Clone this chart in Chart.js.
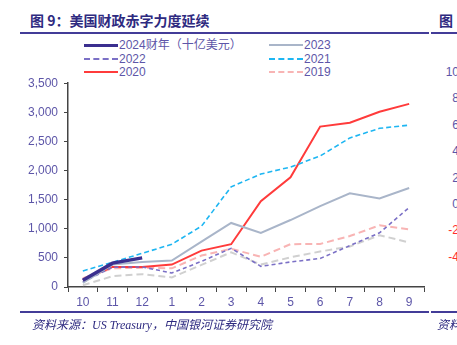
<!DOCTYPE html>
<html lang="zh">
<head>
  <meta charset="UTF-8">
  <title>美国财政赤字力度延续</title>
  <script src="https://cdn.jsdelivr.net/npm/chart.js"></script>
  <style>
    body {
      margin: 0;
      width: 457px;
      height: 345px;
      overflow: hidden;
      position: relative;
      background: #fff;
      font-family: "Liberation Sans", Arial, "Noto Sans CJK SC", sans-serif;
    }
    .title {
      position: absolute;
      top: 10px;
      left: 30px;
      font: bold 14px "Noto Sans CJK SC", sans-serif;
      color: #2e2a80;
    }
    .title-right { left: 439px; }
    .rule {
      position: absolute;
      height: 2px;
      background: #433c98;
    }
    .legend {
      position: absolute;
      font-size: 12px;
      color: #5d56a8;
      line-height: 13px;
    }
    .legend .swatch {
      position: absolute;
      width: 34px;
      top: 6px;
    }
    .legend span { position: absolute; white-space: nowrap; }
    .rlabel {
      position: absolute;
      right: -12px;
      font-size: 12px;
      color: #5d56a8;
      text-align: right;
    }
    .rlabel.neg { color: #ff2f2f; }
    .footer {
      position: absolute;
      top: 315px;
      font: italic 12px "Liberation Serif", "Noto Sans CJK SC", serif;
      color: #2e2a80;
      white-space: nowrap;
    }
    #chart-wrap {
      position: absolute;
      left: 0;
      top: 70px;
      width: 440px;
      height: 245px;
    }
  </style>
</head>
<body>
  <div class="title">图 9：美国财政赤字力度延续</div>
  <div class="title title-right">图</div>
  <div class="rule" style="left:20px; top:32px; width:409px;"></div>
  <div class="rule" style="left:431px; top:32px; width:30px;"></div>

  <div id="legend"></div>

  <div id="right-labels"></div>

  <div id="chart-wrap"><canvas id="deficit-chart"></canvas></div>

  <div class="rule" style="left:20px; top:311px; width:409px;"></div>
  <div class="rule" style="left:431px; top:311px; width:30px;"></div>
  <div class="footer" style="left:32px;">资料来源：US Treasury，中国银河证券研究院</div>
  <div class="footer" style="left:437px;">资料</div>

  <script>
    // fiscal-year months, Oct through Sep
    const months = ["10", "11", "12", "1", "2", "3", "4", "5", "6", "7", "8", "9"];

    // cumulative deficit, billion USD
    const fy2024 = [115, 410, 500];
    const fy2023 = [70, 385, 430, 455, 780, 1100, 930, 1150, 1390, 1610, 1520, 1700];
    const fy2022 = [85, 340, 345, 240, 440, 665, 355, 430, 490, 710, 930, 1365];
    const fy2021 = [275, 425, 578, 735, 1045, 1720, 1940, 2060, 2250, 2560, 2725, 2780];
    const fy2020 = [120, 345, 345, 385, 625, 735, 1475, 1885, 2755, 2820, 3010, 3145];
    const fy2019 = [150, 320, 330, 320, 540, 655, 520, 735, 740, 875, 1060, 990];
    const fyOther = [30, 185, 220, 165, 380, 595, 385, 510, 610, 695, 890, 765];

    // labels of the neighbouring panel (cut off at the right edge)
    const rightTicks = ["10.0", "8.0", "6.0", "4.0", "2.0", "0.0", "-2.0", "-4.0"];

    const series = [
      { label: "2024财年（十亿美元）", data: fy2024, color: "#3b2f8f", width: 3.5, dash: [] },
      { label: "2023", data: fy2023, color: "#a9b5c9", width: 2, dash: [] },
      { label: "2022", data: fy2022, color: "#7b70c6", width: 1.6, dash: [4, 3] },
      { label: "2021", data: fy2021, color: "#1eb6f2", width: 1.6, dash: [5, 3] },
      { label: "2020", data: fy2020, color: "#ff3b3b", width: 2, dash: [] },
      { label: "2019", data: fy2019, color: "#f8b4b4", width: 2, dash: [7, 4] },
      { label: "", data: fyOther, color: "#d0d0d0", width: 2, dash: [7, 4] }
    ];

    // legend, two columns like the original
    const legend = document.getElementById("legend");
    const legendOrder = [0, 2, 4, 1, 3, 5];
    legendOrder.forEach((idx, i) => {
      const s = series[idx];
      const col = i < 3 ? 0 : 1;
      const row = i % 3;
      const x = col === 0 ? 84 : 269;
      const y = 39 + row * 13.5;
      const item = document.createElement("div");
      item.className = "legend";
      item.style.left = x + "px";
      item.style.top = y + "px";
      const style = s.dash.length ? "dashed" : "solid";
      const w = idx === 0 ? 3 : 2;
      item.innerHTML =
        `<div class="swatch" style="border-top:${w}px ${style} ${s.color}; margin-top:-${Math.floor(w / 2)}px"></div>` +
        `<span style="left:35px">${s.label}</span>`;
      legend.appendChild(item);
    });

    // right panel tick labels
    const rl = document.getElementById("right-labels");
    rightTicks.forEach((t, i) => {
      const d = document.createElement("div");
      d.className = "rlabel" + (t.startsWith("-") ? " neg" : "");
      d.style.top = (65 + i * 26.4) + "px";
      d.textContent = t;
      rl.appendChild(d);
    });

    const labelColor = "#5d56a8";

    new Chart(document.getElementById("deficit-chart"), {
      type: "line",
      data: {
        labels: months,
        datasets: series.map(s => ({
          label: s.label,
          data: s.data,
          borderColor: s.color,
          borderWidth: s.width,
          borderDash: s.dash,
          pointRadius: 0,
          tension: 0,
          fill: false
        }))
      },
      options: {
        responsive: true,
        maintainAspectRatio: false,
        animation: false,
        layout: { padding: { top: 7, right: 16, left: 0, bottom: 0 } },
        plugins: {
          legend: { display: false },
          tooltip: { enabled: false }
        },
        scales: {
          x: {
            offset: true,
            grid: {
              offset: true,
              drawOnChartArea: false,
              drawTicks: true,
              tickLength: 5,
              color: "#444"
            },
            border: { color: "#444", width: 1.5 },
            ticks: {
              color: labelColor,
              font: { size: 12, family: "Liberation Sans" },
              padding: 3,
              maxRotation: 0
            },
            afterFit: axis => { axis.height = 28; }
          },
          y: {
            min: 0,
            max: 3500,
            ticks: {
              stepSize: 500,
              color: labelColor,
              font: { size: 12, family: "Liberation Sans" },
              padding: 6
            },
            grid: {
              drawOnChartArea: false,
              drawTicks: true,
              tickLength: 4,
              color: "#444"
            },
            border: { color: "#444", width: 1.5 },
            afterFit: axis => { axis.width = 68; }
          }
        }
      }
    });
  </script>
</body>
</html>
